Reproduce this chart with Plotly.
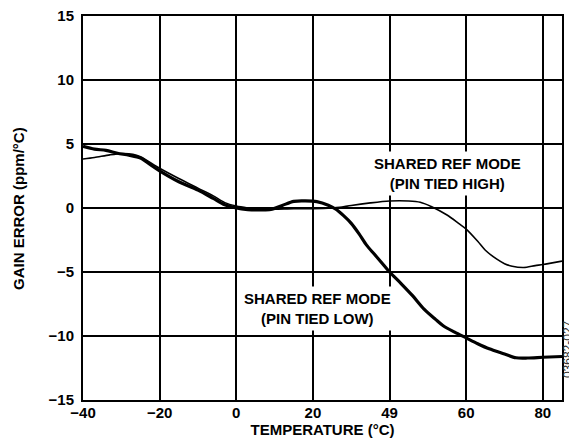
import plotly.graph_objects as go

# Temperature (°C) sample points
temp_low = [-40, -37, -34, -31, -28, -25, -22.5, -20, -15, -10, -6, -3, 0, 3, 6, 9, 12, 15, 18, 21, 24, 26, 28, 30, 32, 34, 36, 38, 40, 43, 46, 49, 52, 54, 57, 60, 63, 66, 70, 73, 76, 80, 85]
gain_low = [4.82, 4.6, 4.5, 4.28, 4.12, 3.9, 3.4, 2.9, 2.05, 1.4, 0.75, 0.25, 0.0, -0.12, -0.15, -0.12, 0.2, 0.52, 0.55, 0.5, 0.22, -0.1, -0.6, -1.2, -2.0, -2.9, -3.6, -4.3, -5.0, -5.9, -6.85, -7.9, -8.7, -9.2, -9.7, -10.15, -10.6, -11.0, -11.4, -11.7, -11.72, -11.66, -11.6]

temp_high = [-40, -37, -33, -30, -27, -25, -20, -15, -10, -6, -3, 0, 3, 6, 10, 15, 20, 25, 27, 30, 35, 40, 45, 48, 51, 55, 58, 60, 63, 65, 68, 70, 72, 75, 78, 80, 85]
gain_high = [3.83, 3.95, 4.15, 4.25, 4.2, 4.0, 3.1, 2.3, 1.55, 0.95, 0.42, 0.15, 0.0, -0.1, -0.1, -0.05, -0.05, 0.0, 0.05, 0.2, 0.4, 0.55, 0.55, 0.45, 0.1, -0.55, -1.2, -1.65, -2.6, -3.3, -4.0, -4.35, -4.55, -4.65, -4.5, -4.42, -4.15]

x_tickvals = [-40, -20, 0, 20, 40, 60, 80]
x_ticktext = ["<b>\u221240</b>", "<b>\u221220</b>", "<b>0</b>", "<b>20</b>", "<b>49</b>", "<b>60</b>", "<b>80</b>"]
y_tickvals = [-15, -10, -5, 0, 5, 10, 15]
y_ticktext = ["<b>\u221215</b>", "<b>\u221210</b>", "<b>\u22125</b>", "<b>0</b>", "<b>5</b>", "<b>10</b>", "<b>15</b>"]

FONT = "Liberation Sans, Arial, sans-serif"
bold = dict(family=FONT, size=15, color="black")

fig = go.Figure()
fig.add_trace(go.Scatter(x=temp_high, y=gain_high, mode="lines",
                         line=dict(color="black", width=1.6, shape="spline", smoothing=0.8),
                         showlegend=False, hoverinfo="skip"))
fig.add_trace(go.Scatter(x=temp_low, y=gain_low, mode="lines",
                         line=dict(color="black", width=3.2, shape="spline", smoothing=0.8),
                         showlegend=False, hoverinfo="skip"))

fig.add_annotation(x=55.2, y=2.66, xref="x", yref="y",
                   text="<b>SHARED REF MODE<br>(PIN TIED HIGH)</b>", showarrow=False,
                   font=bold, bgcolor="white", borderpad=3, align="center")
fig.add_annotation(x=21.2, y=-7.85, xref="x", yref="y",
                   text="<b>SHARED REF MODE<br>(PIN TIED LOW)</b>", showarrow=False,
                   font=bold, bgcolor="white", borderpad=3, align="center")
fig.add_annotation(x=1.0125, y=0.1325, xref="paper", yref="paper",
                   xanchor="center", yanchor="middle",
                   text="03682-027", showarrow=False, textangle=-90,
                   font=dict(family=FONT, size=12, color="#333333"))
# y-axis title placed as a rotated annotation for exact position
fig.add_annotation(x=-0.1357, y=0.5, xref="paper", yref="paper",
                   xanchor="center", yanchor="middle",
                   text="<b>GAIN ERROR (ppm/\u00b0C)</b>", showarrow=False, textangle=-90,
                   font=bold)

fig.update_xaxes(range=[-40, 85], tickvals=x_tickvals, ticktext=x_ticktext,
                 showgrid=True, gridcolor="black", gridwidth=1.5,
                 showline=True, linecolor="black", linewidth=2, mirror=True,
                 zeroline=False, ticks="", tickfont=bold, ticklabelstandoff=-2,
                 ticklabeloverflow="allow", automargin=False,
                 title=dict(text="<b>TEMPERATURE (\u00b0C)</b>", font=bold, standoff=4))
fig.update_yaxes(range=[-15, 15], tickvals=y_tickvals, ticktext=y_ticktext,
                 showgrid=True, gridcolor="black", gridwidth=1.5,
                 showline=True, linecolor="black", linewidth=2, mirror=True,
                 zeroline=False, ticks="", tickfont=bold, ticklabelstandoff=4,
                 ticklabeloverflow="allow", automargin=False)

# page body adds an 8px margin, so the figure is sized/offset to compensate
fig.update_layout(width=569, height=430, paper_bgcolor="white", plot_bgcolor="white",
                  margin=dict(l=75, r=15, t=8, b=38, autoexpand=False), font=dict(family=FONT))

fig.write_html("out.html")
